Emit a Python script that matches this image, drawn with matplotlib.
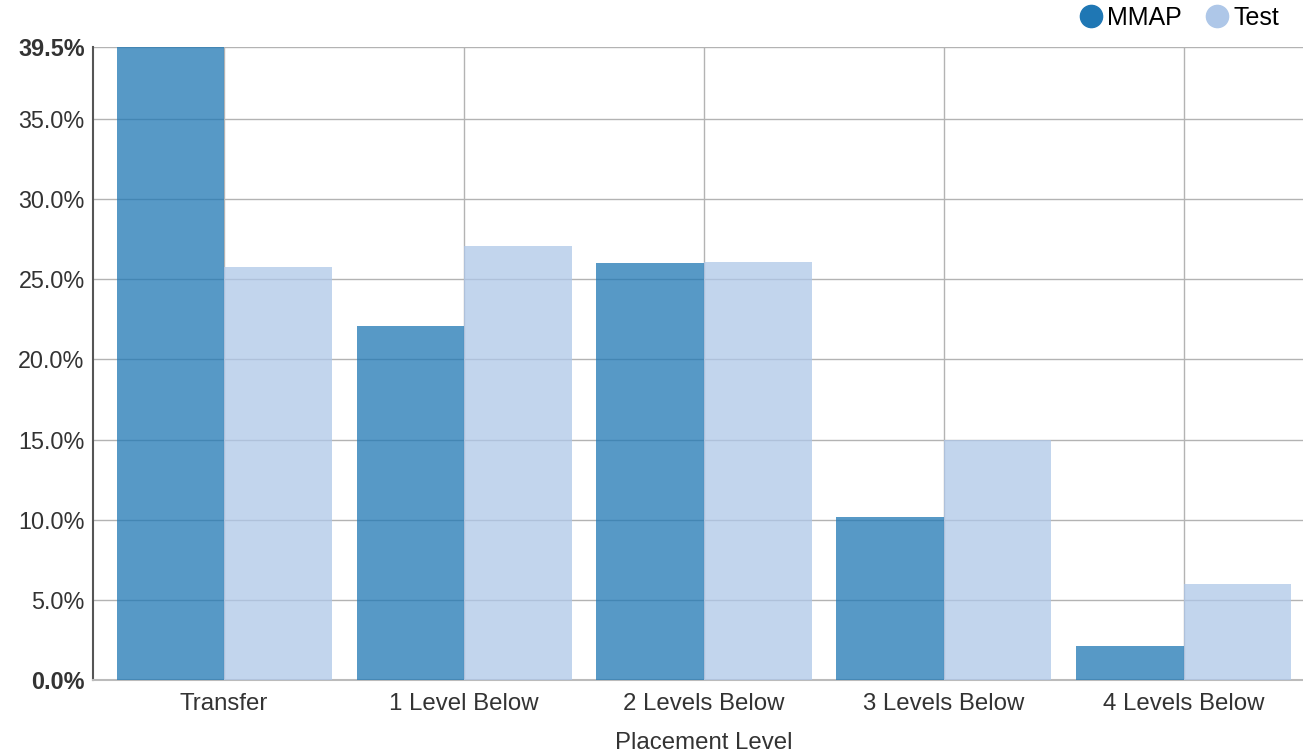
import numpy as np
import matplotlib.pyplot as plt
from matplotlib.lines import Line2D
from matplotlib.ticker import FixedLocator

plt.rcParams['font.family'] = ['Liberation Sans', 'DejaVu Sans']

levels = ["Transfer", "1 Level Below", "2 Levels Below", "3 Levels Below", "4 Levels Below"]
mmap = [39.5, 22.1, 26.0, 10.2, 2.1]
test = [25.8, 27.1, 26.1, 15.0, 6.0]
y_ticks = [0, 5, 10, 15, 20, 25, 30, 35, 39.5]

c_mmap = "#1f77b4"
c_test = "#aec7e8"
grid_c = "#b3b3b3"
text_c = "#333333"

fig = plt.figure(figsize=(13.03, 7.54), dpi=100)
ax = fig.add_axes([93 / 1303, 74 / 754, 1210 / 1303, 633 / 754])

x = np.arange(len(levels))
w = 0.448
ax.bar(x - w / 2, mmap, width=w, color=c_mmap, alpha=0.75, zorder=3, linewidth=0)
ax.bar(x + w / 2, test, width=w, color=c_test, alpha=0.75, zorder=3, linewidth=0)

ax.set_xlim(-0.546, 4.496)
ax.set_ylim(0, 39.5)

ax.yaxis.set_major_locator(FixedLocator(y_ticks))
ax.set_yticklabels([f"{v:.1f}%" for v in y_ticks])
for lbl in (ax.get_yticklabels()[0], ax.get_yticklabels()[-1]):
    lbl.set_fontweight("bold")
ax.set_xticks(x)
ax.set_xticklabels(levels)

ax.tick_params(axis="y", length=0, pad=6, labelsize=16.8, labelcolor=text_c)
ax.tick_params(axis="x", length=0, pad=9, labelsize=17.3, labelcolor=text_c)

ax.grid(True, color=grid_c, linewidth=1, zorder=0)
ax.set_axisbelow(True)

for side in ("top", "right"):
    ax.spines[side].set_visible(False)
ax.spines["left"].set_color("#555555")
ax.spines["left"].set_linewidth(1.5)
ax.spines["bottom"].set_color("#bbbbbb")
ax.spines["bottom"].set_linewidth(1.5)

ax.set_xlabel("Placement Level", fontsize=17.3, color=text_c)
ax.xaxis.set_label_coords(0.505, -63 / 633)
ax.xaxis.label.set_va("center")

handles = [
    Line2D([], [], marker="o", linestyle="", markersize=16, color=c_mmap, label="MMAP"),
    Line2D([], [], marker="o", linestyle="", markersize=16, color=c_test, label="Test"),
]
fig.legend(handles=handles, loc="center right", bbox_to_anchor=(1279 / 1303, 1 - 18 / 754),
           ncol=2, frameon=False, fontsize=18, handlelength=0.9, handletextpad=0.2,
           columnspacing=0.95, borderpad=0, borderaxespad=0)

fig.savefig("out.png", dpi=100)
